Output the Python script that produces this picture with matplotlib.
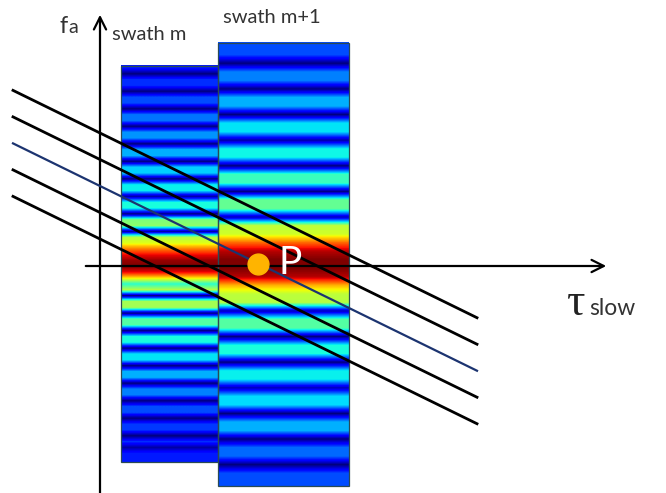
import numpy as np
import matplotlib.pyplot as plt
from matplotlib.patches import Rectangle

# --- dados (unidades: tau_slow horizontal, f_a vertical) ---
swath_labels = ['swath m', 'swath m+1']
swath_t_start = [0.21, 1.18]
swath_t_end = [1.18, 2.49]
swath_f_top = [2.00, 2.23]
swath_f_bottom = [-1.96, -2.20]

# intensidade (0..1, escala jet) lida de cima para baixo
swath_m_profile = [0.15,
                   0.0, 0.17, 0.17,
                   0.0, 0.20, 0.20,
                   0.0, 0.24, 0.24,
                   0.0, 0.27, 0.27,
                   0.0, 0.30, 0.30,
                   0.0, 0.33, 0.33,
                   0.0, 0.36, 0.36,
                   0.03, 0.38, 0.38,
                   0.0, 0.50, 0.52,
                   0.03,
                   0.57, 0.62, 0.78, 0.90, 0.98, 1.0, 0.90, 0.66, 0.40, 0.57,
                   0.0, 0.55, 0.55,
                   0.0, 0.45, 0.45,
                   0.0, 0.38, 0.38,
                   0.0, 0.35, 0.35,
                   0.0, 0.30, 0.30,
                   0.0, 0.25, 0.25,
                   0.0, 0.20, 0.20,
                   0.0, 0.18, 0.18,
                   0.0, 0.17, 0.03, 0.15, 0.15]

swath_m1_profile = [0.20, 0.20,
                    0.0, 0.25, 0.25,
                    0.0, 0.30, 0.30,
                    0.0, 0.35, 0.35,
                    0.03, 0.37, 0.37,
                    0.0, 0.42, 0.42,
                    0.0, 0.47, 0.47,
                    0.05,
                    0.58, 0.60, 0.80, 0.95, 1.0, 1.0, 0.95, 0.72, 0.58, 0.57,
                    0.05, 0.45, 0.45,
                    0.0, 0.38, 0.38,
                    0.0, 0.36, 0.36,
                    0.05, 0.34, 0.34,
                    0.0, 0.30, 0.30,
                    0.0, 0.23, 0.23,
                    0.0, 0.20, 0.20]

swath_profiles = [swath_m_profile, swath_m1_profile]

# retas paralelas f_a = intercepto + inclinacao * tau
line_slope = -0.49
line_intercepts = [1.33, 1.065, 0.80, 0.535, 0.27]
line_t = [-0.87, 3.77]

point_p = (1.58, 0.02)

# --- figura ---
fig = plt.figure(figsize=(6.66, 4.93), dpi=100)
ax = fig.add_axes([0, 0, 1, 1])

for i in range(2):
    img = np.array(swath_profiles[i]).reshape(-1, 1)
    ax.imshow(img, cmap='jet', vmin=0, vmax=1, aspect='auto',
              extent=(swath_t_start[i], swath_t_end[i], swath_f_bottom[i], swath_f_top[i]),
              interpolation='bilinear', interpolation_stage='data', zorder=1)
    ax.add_patch(Rectangle((swath_t_start[i], swath_f_bottom[i]),
                           swath_t_end[i] - swath_t_start[i],
                           swath_f_top[i] - swath_f_bottom[i],
                           fill=False, edgecolor='#2a4a55', lw=0.9, zorder=2))

# eixos com setas
ax.annotate('', xy=(0, 2.54), xytext=(0, -2.4),
            arrowprops=dict(arrowstyle='->', lw=1.6, color='black', mutation_scale=22), zorder=3)
ax.annotate('', xy=(5.09, 0), xytext=(-0.17, 0),
            arrowprops=dict(arrowstyle='->', lw=1.6, color='black', mutation_scale=22), zorder=3)

# retas
for k, b in enumerate(line_intercepts):
    fa = [b + line_slope * t for t in line_t]
    if k == 2:
        ax.plot(line_t, fa, color='#1c3470', lw=1.6, zorder=4)
    else:
        ax.plot(line_t, fa, color='black', lw=2.0, zorder=4)

# ponto P
ax.plot(point_p[0], point_p[1], 'o', color='#ffb400', markersize=15, zorder=5)
ax.text(1.78, -0.08, 'P', color='white', fontsize=28, family='Lato', zorder=6)

# textos
ax.text(-0.41, 2.33, 'f', fontsize=17, color='#333333', family='Lato')
ax.text(-0.32, 2.33, 'a', fontsize=14, color='#333333', family='Lato')
ax.text(0.12, 2.26, swath_labels[0], fontsize=14.5, color='#333333', family='Lato')
ax.text(1.23, 2.43, swath_labels[1], fontsize=14.5, color='#333333', family='Lato')
ax.text(4.67, -0.49, '\u03c4', fontsize=33, color='#222222', family='Liberation Serif')
ax.text(4.89, -0.49, 'slow', fontsize=16.5, color='#333333', family='Lato')

ax.set_xlim(-1.00, 5.66)
ax.set_ylim(-2.27, 2.66)
ax.axis('off')

fig.savefig('out.png', dpi=100)
